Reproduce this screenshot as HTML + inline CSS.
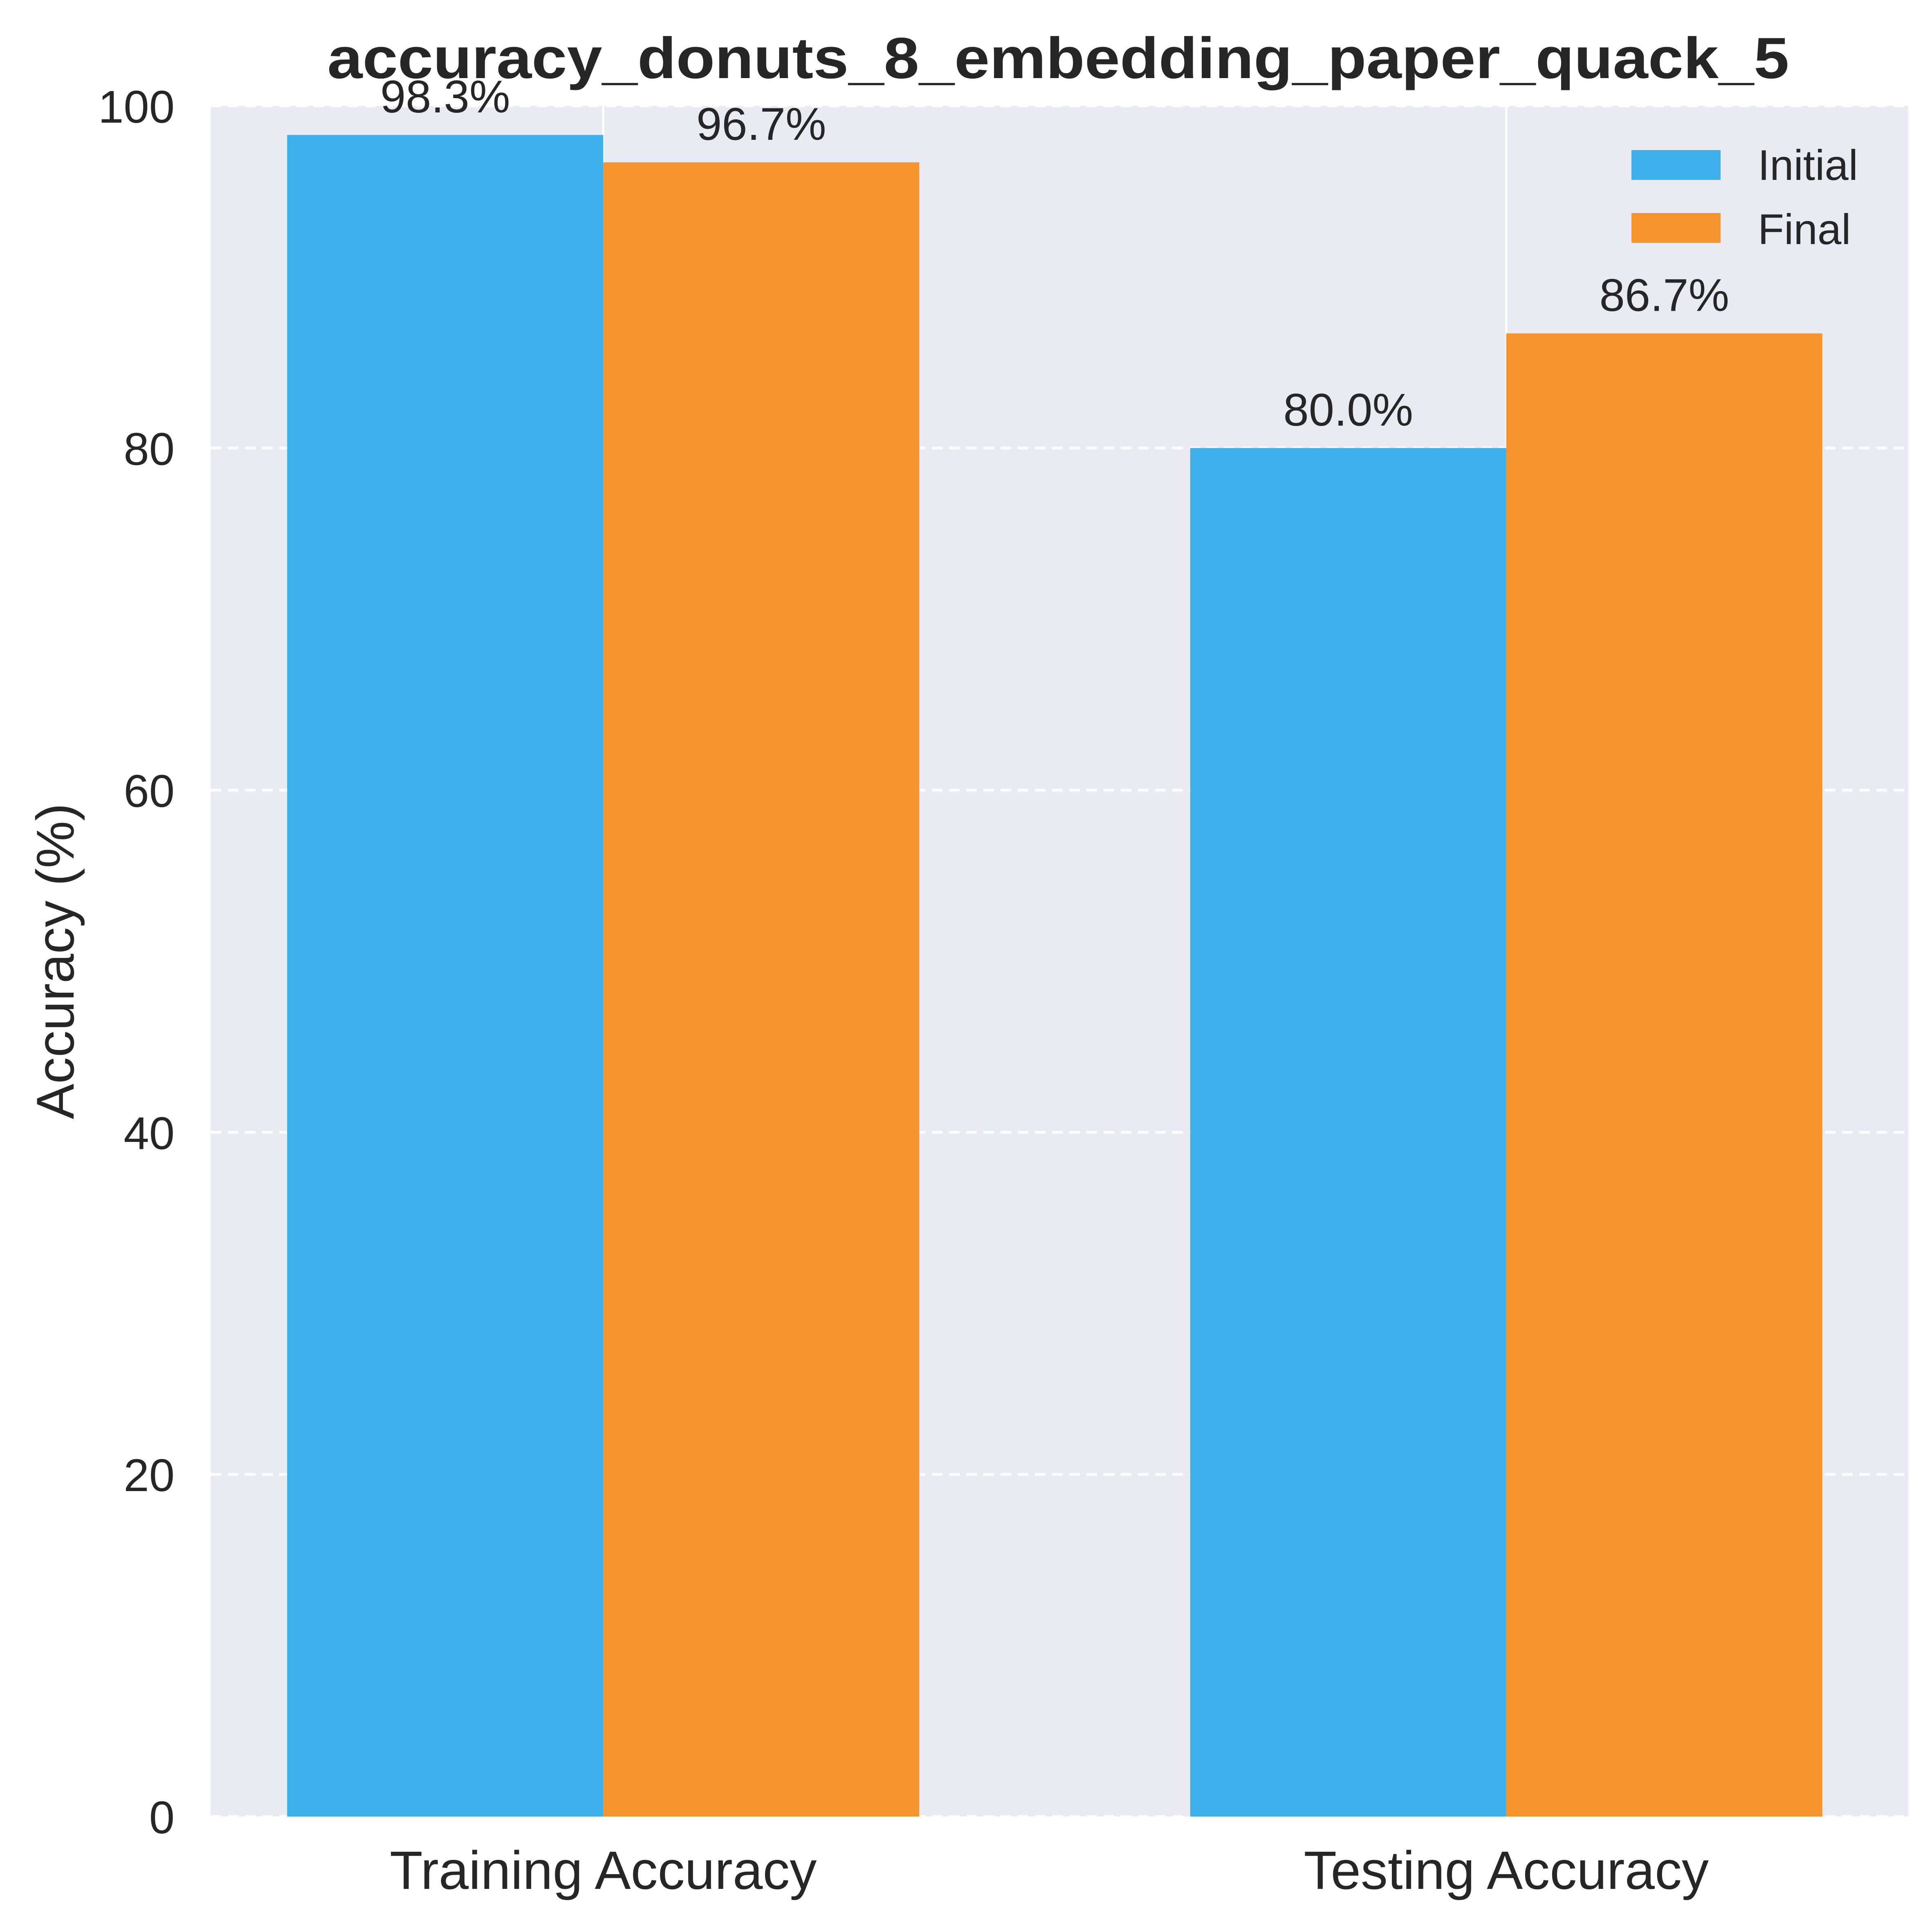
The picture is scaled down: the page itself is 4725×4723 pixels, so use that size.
<!DOCTYPE html>
<html><head><meta charset="utf-8"><style>body{margin:0;background:#fff}svg{display:block;font-family:"Liberation Sans",Arial,sans-serif}</style></head>
<body>
<svg id="chart" width="4725" height="4723" viewBox="0 0 4725 4723" xmlns="http://www.w3.org/2000/svg">
<rect x="515" y="259" width="4152" height="4184" fill="#EAEAF2"/>
<g id="grid"></g><g id="bars"></g><g id="labels"></g>
<text x="2588" y="191" text-anchor="middle" font-weight="bold" font-size="142" fill="#262626" textLength="3575" lengthAdjust="spacingAndGlyphs">accuracy_donuts_8_embedding_paper_quack_5</text>
<text transform="translate(180,2351) rotate(-90)" text-anchor="middle" font-size="130" fill="#262626">Accuracy (%)</text>
<g>
<rect x="3990" y="367" width="218" height="73" fill="#3DAFEA"/>
<text x="4299" y="440" font-size="105" fill="#262626">Initial</text>
<rect x="3990" y="521" width="218" height="73" fill="#F5942D"/>
<text x="4299" y="597" font-size="105" fill="#262626">Final</text>
</g>
</svg>
<script>
const categories = ["Training Accuracy", "Testing Accuracy"];
const initialValues = [98.3, 80.0];
const finalValues = [96.7, 86.7];
const yTicks = [0, 20, 40, 60, 80, 100];
const NS = "http://www.w3.org/2000/svg";
const L = 515, R = 4667, T = 259, B = 4443;
const xMin = -0.4348, xMax = 1.4452, yMin = 0, yMax = 100;
const xs = v => L + (v - xMin) / (xMax - xMin) * (R - L);
const ys = v => B - (v - yMin) / (yMax - yMin) * (B - T);
function mk(tag, attrs, parent, text) {
  const e = document.createElementNS(NS, tag);
  for (const k in attrs) e.setAttribute(k, attrs[k]);
  if (text !== undefined) e.textContent = text;
  parent.appendChild(e);
  return e;
}
const grid = document.getElementById('grid'), bars = document.getElementById('bars'), labels = document.getElementById('labels');
yTicks.forEach(t => {
  const g = mk('line', {x1: L, x2: R, y1: ys(t), y2: ys(t), stroke: '#fff', 'stroke-width': 7, 'stroke-dasharray': '26 16', opacity: 0.9}, grid);
  
  
  const tl = mk('text', {x: 427, y: ys(t) + 41, 'text-anchor': 'end', 'font-size': 112, fill: '#262626'}, labels, String(t));
  
  
});
const w = 0.35;
categories.forEach((c, i) => {
  const vl = mk('line', {x1: xs(i), x2: xs(i), y1: T, y2: B, stroke: '#fff', 'stroke-width': 5}, grid);
  
  
  [[initialValues, '#3DAFEA', -w / 2, 'initial'], [finalValues, '#F5942D', w / 2, 'final']].forEach(([arr, col, off, nm]) => {
    const v = arr[i];
    const x0 = xs(i + off - w / 2), x1 = xs(i + off + w / 2);
    const b = mk('rect', {x: x0, y: ys(v), width: x1 - x0, height: ys(0) - ys(v), fill: col}, bars);
    
    
    const a = mk('text', {x: (x0 + x1) / 2, y: ys(v) - 55, 'text-anchor': 'middle', 'font-size': 112, fill: '#262626'}, labels, v.toFixed(1) + '%');
    
    
  });
  const xl = mk('text', {x: xs(i), y: 4620, 'text-anchor': 'middle', 'font-size': 132, fill: '#262626'}, labels, c);
  
  
});
</script>
</body></html>
